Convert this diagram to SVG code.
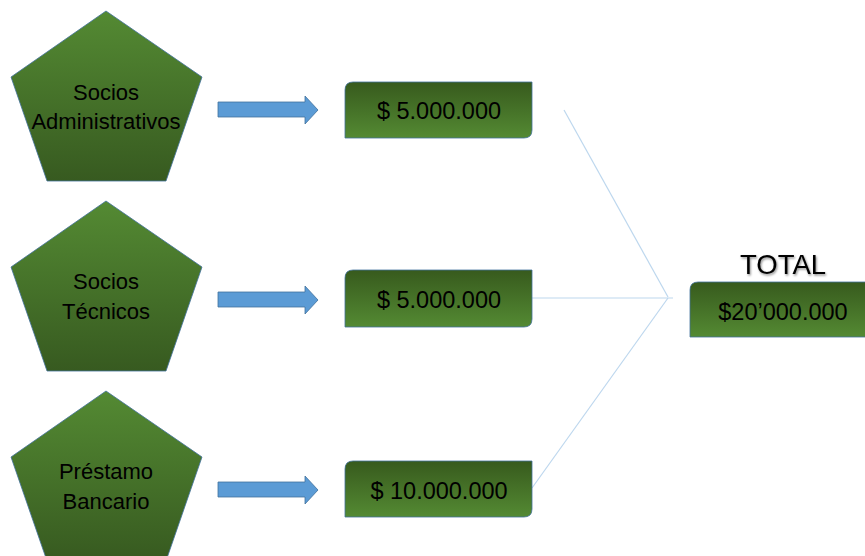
<svg xmlns="http://www.w3.org/2000/svg" width="865" height="556" viewBox="0 0 865 556">
<defs>
<linearGradient id="gp" x1="0" y1="0" x2="0" y2="1"><stop offset="0" stop-color="#548a33"/><stop offset="1" stop-color="#375a20"/></linearGradient>
<linearGradient id="gr" x1="0" y1="0" x2="0" y2="1"><stop offset="0" stop-color="#375a1d"/><stop offset="1" stop-color="#548a33"/></linearGradient>
<filter id="sh" x="-10%" y="-10%" width="130%" height="140%"><feDropShadow dx="1" dy="1.5" stdDeviation="0.8" flood-color="#000" flood-opacity="0.45"/></filter>
</defs>
<style>
.pent{fill:url(#gp);stroke:#41719c;stroke-width:0.8}
.box{fill:url(#gr);stroke:#41719c;stroke-width:0.8}
.arr{fill:#5b9bd5;stroke:#41719c;stroke-width:0.8}
.conn{stroke:#bdd7ee;stroke-width:1.2;fill:none}
text{font-family:"Liberation Sans",Arial,sans-serif;fill:#000;text-anchor:middle}
.t{font-size:22px}
.v{font-size:23.5px}
.big{font-size:27.5px}
</style>
<rect width="865" height="556" fill="#fff"/>
<g id="connectors">
<line class="conn" x1="564" y1="110" x2="668" y2="297"/>
<line class="conn" x1="532" y1="298" x2="673" y2="298"/>
<line class="conn" x1="532" y1="488" x2="668" y2="298"/>
<polygon class="arr" points="218,102 305,102 305,96 318,110 305,124 305,117 218,117"/>
<polygon class="arr" points="218,292 305,292 305,286 318,300 305,314 305,307 218,307"/>
<polygon class="arr" points="218,482 305,482 305,476 318,490 305,504 305,497 218,497"/>
</g>
<g id="pent1"><polygon class="pent" points="106,11 202,77 166,181 47,181 11,77"/><text class="t" x="106" y="100">Socios</text><text class="t" x="106" y="129">Administrativos</text></g>
<g id="pent2"><polygon class="pent" points="106,201 202,267 166,371 47,371 11,267"/><text class="t" x="106" y="289">Socios</text><text class="t" x="106" y="319">Técnicos</text></g>
<g id="pent3"><polygon class="pent" points="106,391 202,457 166,561 47,561 11,457"/><text class="t" x="106" y="479">Préstamo</text><text class="t" x="106" y="509">Bancario</text></g>
<g id="box1"><path class="box" d="M353,82 H532 V130 Q532,138 524,138 H345 V90 Q345,82 353,82 Z"/><text class="v" x="439" y="119">$ 5.000.000</text></g>
<g id="box2"><path class="box" d="M353,270 H532 V319 Q532,327 524,327 H345 V278 Q345,270 353,270 Z"/><text class="v" x="439" y="308">$ 5.000.000</text></g>
<g id="box3"><path class="box" d="M353,461 H532 V509 Q532,517 524,517 H345 V469 Q345,461 353,461 Z"/><text class="v" x="439" y="499">$ 10.000.000</text></g>
<g id="total"><text class="big" x="783" y="274" filter="url(#sh)">TOTAL</text><path class="box" d="M698,282 H866 V337 H690 V290 Q690,282 698,282 Z"/><text class="v" x="783" y="320">$20’000.000</text></g>
</svg>
